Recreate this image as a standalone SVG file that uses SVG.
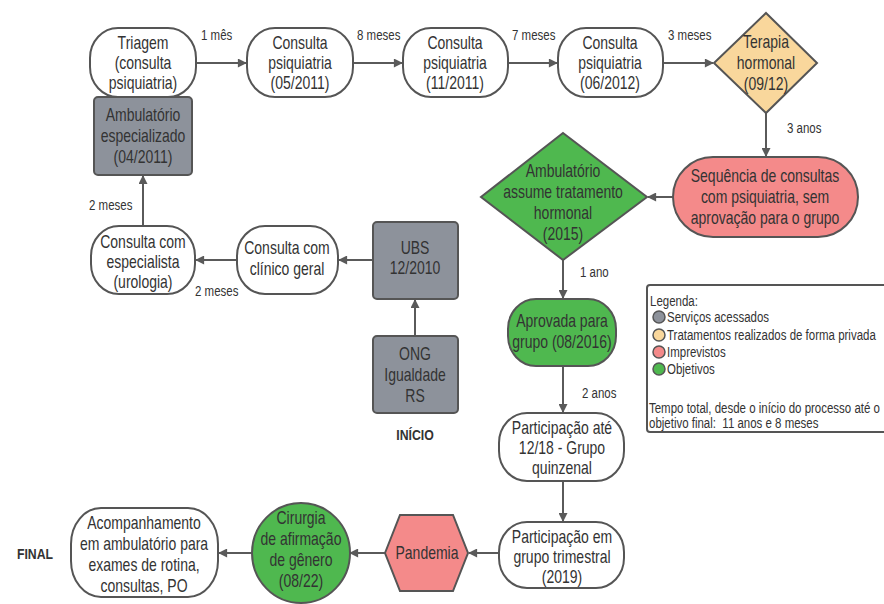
<svg xmlns="http://www.w3.org/2000/svg" width="884" height="604" viewBox="0 0 884 604">
  <defs>
    <marker id="arrow" viewBox="0 0 10 10" refX="9" refY="5" markerWidth="10" markerHeight="9" markerUnits="userSpaceOnUse" orient="auto">
      <path d="M0,0 L10,5 L0,10 z" fill="#5a5a5a"/>
    </marker>
    <style>
      /* condensed sans: Liberation Sans squeezed horizontally via transform */
      text { font-family: "Liberation Sans", Arial, sans-serif; fill: #333; }
      .node { font-size: 17.5px; text-anchor: middle; }
      .lbl { font-size: 14px; }
      .leg { font-size: 14px; }
      .big { font-size: 15px; font-weight: bold; text-anchor: middle; }
      .shape { stroke: #555; stroke-width: 2; }
      .white { fill: #fff; }
      .gray { fill: #8d929b; }
      .green { fill: #4fb84f; }
      .red { fill: #f48a8a; }
      .orange { fill: #f9d79c; }
      .edge { stroke: #5a5a5a; stroke-width: 2; fill: none; marker-end: url(#arrow); }
    </style>
  </defs>

  <rect width="884" height="604" fill="#fff"/>

  <!-- connectors -->
  <g id="connectors">
    <line class="edge" x1="196" y1="63" x2="246" y2="63"/>
    <line class="edge" x1="353" y1="63" x2="402" y2="63"/>
    <line class="edge" x1="508" y1="63" x2="557" y2="63"/>
    <line class="edge" x1="663" y1="63" x2="713" y2="63"/>
    <line class="edge" x1="766" y1="113" x2="766" y2="156"/>
    <line class="edge" x1="673" y1="197" x2="648" y2="197"/>
    <line class="edge" x1="563" y1="260" x2="563" y2="298"/>
    <line class="edge" x1="563" y1="366" x2="563" y2="412"/>
    <line class="edge" x1="563" y1="481" x2="563" y2="521"/>
    <line class="edge" x1="499" y1="553" x2="469" y2="553"/>
    <line class="edge" x1="385" y1="553" x2="350" y2="553"/>
    <line class="edge" x1="252" y1="553" x2="219" y2="553"/>
    <line class="edge" x1="415" y1="336" x2="415" y2="300"/>
    <line class="edge" x1="373" y1="260" x2="339" y2="260"/>
    <line class="edge" x1="237" y1="260" x2="196" y2="260"/>
    <line class="edge" x1="143" y1="226" x2="143" y2="176"/>
    <text class="lbl" transform="translate(201 40) scale(.82 1)">1 mês</text>
    <text class="lbl" transform="translate(357 40) scale(.82 1)">8 meses</text>
    <text class="lbl" transform="translate(512 40) scale(.82 1)">7 meses</text>
    <text class="lbl" transform="translate(668 40) scale(.82 1)">3 meses</text>
    <text class="lbl" transform="translate(787 133) scale(.82 1)">3 anos</text>
    <text class="lbl" transform="translate(580 277) scale(.82 1)">1 ano</text>
    <text class="lbl" transform="translate(582 398) scale(.82 1)">2 anos</text>
    <text class="lbl" transform="translate(89 210) scale(.82 1)">2 meses</text>
    <text class="lbl" transform="translate(195 296) scale(.82 1)">2 meses</text>
  </g>

  <g id="triagem">
    <rect class="shape white" x="90" y="28" width="106" height="69" rx="28" ry="30"/>
    <text class="node" transform="translate(143 49) scale(.8 1)">Triagem</text>
    <text class="node" transform="translate(143 69) scale(.8 1)">(consulta</text>
    <text class="node" transform="translate(143 89) scale(.8 1)">psiquiatria)</text>
  </g>

  <g id="ambulatorio-especializado">
    <rect class="shape gray" x="94" y="97" width="98" height="78" rx="4"/>
    <text class="node" transform="translate(143 121) scale(.8 1)">Ambulatório</text>
    <text class="node" transform="translate(143 142) scale(.8 1)">especializado</text>
    <text class="node" transform="translate(143 163) scale(.8 1)">(04/2011)</text>
  </g>

  <g id="consulta-05-2011">
    <rect class="shape white" x="247" y="28" width="106" height="69" rx="28" ry="30"/>
    <text class="node" transform="translate(300 49) scale(.8 1)">Consulta</text>
    <text class="node" transform="translate(300 69) scale(.8 1)">psiquiatria</text>
    <text class="node" transform="translate(300 89) scale(.8 1)">(05/2011)</text>
  </g>

  <g id="consulta-11-2011">
    <rect class="shape white" x="403" y="28" width="105" height="69" rx="28" ry="30"/>
    <text class="node" transform="translate(455 49) scale(.8 1)">Consulta</text>
    <text class="node" transform="translate(455 69) scale(.8 1)">psiquiatria</text>
    <text class="node" transform="translate(455 89) scale(.8 1)">(11/2011)</text>
  </g>

  <g id="consulta-06-2012">
    <rect class="shape white" x="558" y="28" width="105" height="69" rx="28" ry="30"/>
    <text class="node" transform="translate(610 49) scale(.8 1)">Consulta</text>
    <text class="node" transform="translate(610 69) scale(.8 1)">psiquiatria</text>
    <text class="node" transform="translate(610 89) scale(.8 1)">(06/2012)</text>
  </g>

  <g id="terapia-hormonal">
    <polygon class="shape orange" points="766,13 817,63 766,113 714,63"/>
    <text class="node" transform="translate(766 48) scale(.8 1)">Terapia</text>
    <text class="node" transform="translate(766 69) scale(.8 1)">hormonal</text>
    <text class="node" transform="translate(766 90) scale(.8 1)">(09/12)</text>
  </g>

  <g id="sequencia-consultas">
    <rect class="shape red" x="673" y="157" width="185" height="80" rx="40"/>
    <text class="node" transform="translate(765 182) scale(.8 1)">Sequência de consultas</text>
    <text class="node" transform="translate(765 203) scale(.8 1)">com psiquiatria, sem</text>
    <text class="node" transform="translate(765 224) scale(.8 1)">aprovação para o grupo</text>
  </g>

  <g id="ambulatorio-assume">
    <polygon class="shape green" points="563,133 647,197 563,260 481,197"/>
    <text class="node" transform="translate(563 177) scale(.8 1)">Ambulatório</text>
    <text class="node" transform="translate(563 198) scale(.8 1)">assume tratamento</text>
    <text class="node" transform="translate(563 219) scale(.8 1)">hormonal</text>
    <text class="node" transform="translate(563 240) scale(.8 1)">(2015)</text>
  </g>

  <g id="aprovada-grupo">
    <rect class="shape green" x="508" y="299" width="108" height="67" rx="28" ry="30"/>
    <text class="node" transform="translate(562 327) scale(.8 1)">Aprovada para</text>
    <text class="node" transform="translate(562 348) scale(.8 1)">grupo (08/2016)</text>
  </g>

  <g id="participacao-quinzenal">
    <rect class="shape white" x="499" y="413" width="125" height="68" rx="28" ry="30"/>
    <text class="node" transform="translate(562 434) scale(.8 1)">Participação até</text>
    <text class="node" transform="translate(562 454) scale(.8 1)">12/18 - Grupo</text>
    <text class="node" transform="translate(562 474) scale(.8 1)">quinzenal</text>
  </g>

  <g id="participacao-trimestral">
    <rect class="shape white" x="499" y="522" width="125" height="66" rx="28" ry="30"/>
    <text class="node" transform="translate(562 543) scale(.8 1)">Participação em</text>
    <text class="node" transform="translate(562 563) scale(.8 1)">grupo trimestral</text>
    <text class="node" transform="translate(562 583) scale(.8 1)">(2019)</text>
  </g>

  <g id="pandemia">
    <polygon class="shape red" points="385,553 400,515 453,515 468,553 453,591 400,591"/>
    <text class="node" transform="translate(427 559) scale(.8 1)">Pandemia</text>
  </g>

  <g id="cirurgia">
    <ellipse class="shape green" cx="301" cy="553" rx="49" ry="50"/>
    <text class="node" transform="translate(301 524) scale(.8 1)">Cirurgia</text>
    <text class="node" transform="translate(301 545) scale(.8 1)">de afirmação</text>
    <text class="node" transform="translate(301 566) scale(.8 1)">de gênero</text>
    <text class="node" transform="translate(301 587) scale(.8 1)">(08/22)</text>
  </g>

  <g id="acompanhamento">
    <rect class="shape white" x="71" y="508" width="147" height="89" rx="30" ry="36"/>
    <text class="node" transform="translate(144 529) scale(.8 1)">Acompanhamento</text>
    <text class="node" transform="translate(144 550) scale(.8 1)">em ambulatório para</text>
    <text class="node" transform="translate(144 571) scale(.8 1)">exames de rotina,</text>
    <text class="node" transform="translate(144 592) scale(.8 1)">consultas, PO</text>
  </g>

  <g id="final-label">
    <text class="big" transform="translate(35 559) scale(.82 1)">FINAL</text>
  </g>

  <g id="ubs">
    <rect class="shape gray" x="373" y="222" width="85" height="77" rx="4"/>
    <text class="node" transform="translate(415 254) scale(.8 1)">UBS</text>
    <text class="node" transform="translate(415 274) scale(.8 1)">12/2010</text>
  </g>

  <g id="ong">
    <rect class="shape gray" x="373" y="336" width="85" height="77" rx="4"/>
    <text class="node" transform="translate(415 360) scale(.8 1)">ONG</text>
    <text class="node" transform="translate(415 381) scale(.8 1)">Igualdade</text>
    <text class="node" transform="translate(415 402) scale(.8 1)">RS</text>
  </g>

  <g id="inicio-label">
    <text class="big" transform="translate(415 440) scale(.82 1)">INÍCIO</text>
  </g>

  <g id="consulta-clinico">
    <rect class="shape white" x="237" y="226" width="101" height="68" rx="28" ry="30"/>
    <text class="node" transform="translate(287 254) scale(.8 1)">Consulta com</text>
    <text class="node" transform="translate(287 275) scale(.8 1)">clínico geral</text>
  </g>

  <g id="consulta-especialista">
    <rect class="shape white" x="91" y="226" width="104" height="68" rx="28" ry="30"/>
    <text class="node" transform="translate(143 248) scale(.8 1)">Consulta com</text>
    <text class="node" transform="translate(143 268) scale(.8 1)">especialista</text>
    <text class="node" transform="translate(143 288) scale(.8 1)">(urologia)</text>
  </g>

  <g id="legenda">
    <rect x="647" y="285" width="250" height="147" rx="3" fill="#fff" stroke="#555" stroke-width="2"/>
    <text class="leg" transform="translate(650 306) scale(.82 1)">Legenda:</text>
    <circle cx="659" cy="317" r="6" class="gray" stroke="#555" stroke-width="1.5"/>
    <text class="leg" transform="translate(667 322) scale(.82 1)">Serviços acessados</text>
    <circle cx="659" cy="335" r="6" class="orange" stroke="#555" stroke-width="1.5"/>
    <text class="leg" transform="translate(667 340) scale(.82 1)">Tratamentos realizados de forma privada</text>
    <circle cx="659" cy="352" r="6" class="red" stroke="#555" stroke-width="1.5"/>
    <text class="leg" transform="translate(667 357) scale(.82 1)">Imprevistos</text>
    <circle cx="659" cy="369" r="6" class="green" stroke="#555" stroke-width="1.5"/>
    <text class="leg" transform="translate(667 374) scale(.82 1)">Objetivos</text>
    <text class="leg" transform="translate(649 413) scale(.82 1)">Tempo total, desde o início do processo até o</text>
    <text class="leg" xml:space="preserve" transform="translate(649 428) scale(.82 1)">objetivo final:  11 anos e 8 meses</text>
  </g>
</svg>
